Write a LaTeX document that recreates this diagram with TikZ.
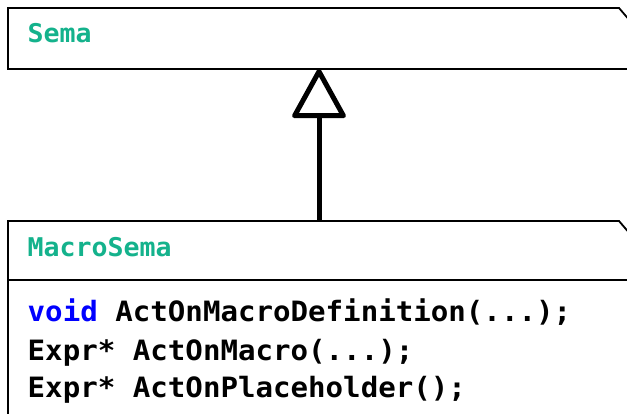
\documentclass[tikz,border=0pt]{standalone}
\usepackage{fontspec}
\usetikzlibrary{arrows.meta}
\newfontfamily\codefont[FakeStretch=1.04]{DejaVu Sans Mono}
\newfontfamily\titlefont[FakeStretch=1.03]{DejaVu Sans Mono}
\definecolor{classgreen}{RGB}{20,178,140}
\definecolor{keyblue}{RGB}{0,0,255}
\tikzset{
  classoutline/.style={draw=black, line width=1.8pt, fill=white, line join=miter},
  classname/.style={anchor=base west, inner sep=0pt, text=classgreen,
    font=\titlefont\bfseries\fontsize{25.8}{30}\selectfont},
  member/.style={anchor=base west, inner sep=0pt, text=black,
    font=\codefont\bfseries\fontsize{28}{37.5}\selectfont},
  inherits/.style={line width=5pt, -{Triangle[open, length=52pt, width=56pt, round]}}
}
\begin{document}
\begin{tikzpicture}[x=1pt, y=-1pt]
  \useasboundingbox (0,0) rectangle (627,414);
  \clip (0,0) rectangle (627,414);
  \fill[white] (0,0) rectangle (627,414);

  % base class: box with a clipped top-right corner
  \draw[classoutline] (8,8) -- (619,8) -- (631,22) -- (631,69) -- (8,69) -- cycle;
  \coordinate (sema) at (319,69);
  \node[classname] (semaname) at (27.5,43) {Sema};

  % derived class with its member list
  \draw[classoutline] (8,221) -- (619,221) -- (631,235) -- (631,440) -- (8,440) -- cycle;
  \coordinate (macro) at (319,221);
  \draw[line width=1.8pt] (8,280) -- (631,280);
  \node[classname] (macroname) at (27.5,257) {MacroSema};
  \node[member] (m1) at (27.5,322) {\textcolor{keyblue}{void} ActOnMacroDefinition(...);};
  \node[member] (m2) at (27.5,360) {Expr* ActOnMacro(...);};
  \node[member] (m3) at (27.5,397) {Expr* ActOnPlaceholder();};

  % generalisation arrow
  \draw[inherits] (macro) -- (sema);
\end{tikzpicture}
\end{document}
